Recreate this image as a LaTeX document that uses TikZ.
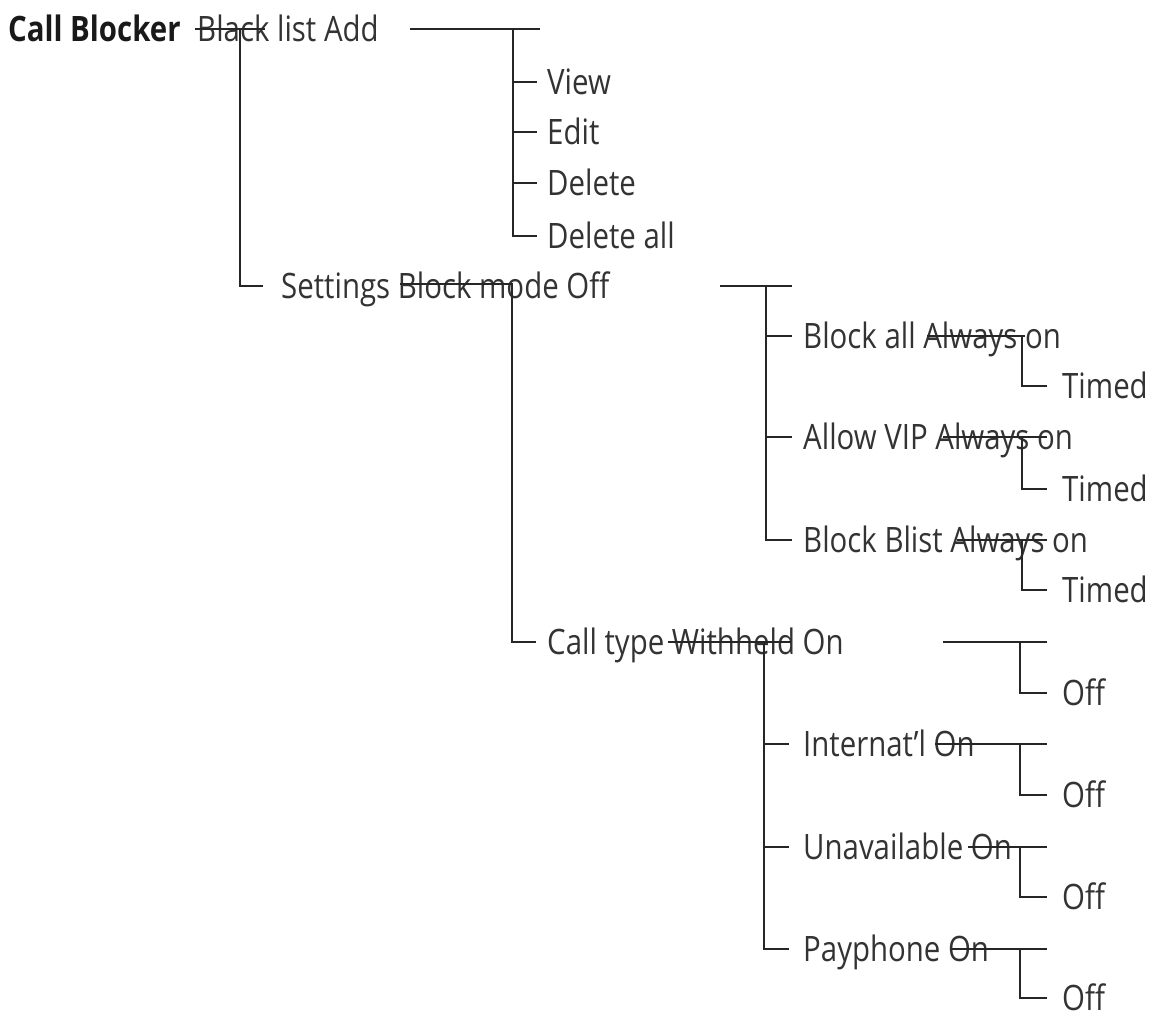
\documentclass[tikz,border=0pt]{standalone}
\usepackage{fontspec}
\setmainfont{Open Sans}[FakeStretch=0.84]
\begin{document}
\begin{tikzpicture}[x=1pt,y=-1pt,
  lbl/.style={anchor=base west,inner sep=0pt,font=\fontsize{35}{40}\selectfont,text=black!80},
  ln/.style={line width=2.6pt,draw=black!85}]
\useasboundingbox (0,0) rectangle (1154,1020);
% texts (baseline = row + 12)
\node[lbl,font=\fontsize{35}{40}\selectfont\bfseries,text=black!90] (cb) at (8,41) {Call Blocker};
\node[lbl] (bl) at (197,41) {Black list Add};
\node[lbl] (view) at (547,94) {View};
\node[lbl] (edit) at (547,144) {Edit};
\node[lbl] (del) at (547,195) {Delete};
\node[lbl] (dela) at (547,248) {Delete all};
\node[lbl] (set) at (281,298) {Settings Block mode Off};
\node[lbl] (ba) at (803,348) {Block all Always on};
\node[lbl] (t1) at (1062,398) {Timed};
\node[lbl] (av) at (803,449) {Allow VIP Always on};
\node[lbl] (t2) at (1062,501) {Timed};
\node[lbl] (bb) at (803,552) {Block Blist Always on};
\node[lbl] (t3) at (1062,602) {Timed};
\node[lbl] (ct) at (547,654) {Call type Withheld On};
\node[lbl] (o1) at (1062,705) {Off};
\node[lbl] (it) at (803,756) {Internat'l On};
\node[lbl] (o2) at (1062,807) {Off};
\node[lbl] (un) at (803,859) {Unavailable On};
\node[lbl] (o3) at (1062,909) {Off};
\node[lbl] (pp) at (803,961) {Payphone On};
\node[lbl] (o4) at (1062,1010) {Off};
% lines
\draw[ln] (195,29) -- (265,29);
\draw[ln] (240,29) -- (240,286) -- (263,286);
\draw[ln] (410,29) -- (540,29);
\draw[ln] (513,29) -- (513,236) -- (537,236);
\foreach \yy in {82,132,183} \draw[ln] (513,\yy) -- (537,\yy);
\draw[ln] (400,284) -- (513,284);
\draw[ln] (512,284) -- (512,642) -- (536,642);
\draw[ln] (720,286) -- (792,286);
\draw[ln] (766,286) -- (766,540) -- (792,540);
\foreach \yy in {336,437} \draw[ln] (766,\yy) -- (792,\yy);
\draw[ln] (927,336) -- (1025,336);
\draw[ln] (1022,336) -- (1022,386) -- (1047,386);
\draw[ln] (943,437) -- (1047,437);
\draw[ln] (1022,437) -- (1022,489) -- (1047,489);
\draw[ln] (957,540) -- (1047,540);
\draw[ln] (1022,540) -- (1022,590) -- (1047,590);
\draw[ln] (668,642) -- (791,642);
\draw[ln] (764,642) -- (764,949) -- (789,949);
\foreach \yy in {744,847} \draw[ln] (764,\yy) -- (789,\yy);
\draw[ln] (943,642) -- (1047,642);
\draw[ln] (1020,642) -- (1020,693) -- (1047,693);
\draw[ln] (935,744) -- (1047,744);
\draw[ln] (1020,744) -- (1020,795) -- (1047,795);
\draw[ln] (968,847) -- (1047,847);
\draw[ln] (1020,847) -- (1020,897) -- (1047,897);
\draw[ln] (951,949) -- (1047,949);
\draw[ln] (1020,949) -- (1020,998) -- (1047,998);
\end{tikzpicture}
\end{document}
